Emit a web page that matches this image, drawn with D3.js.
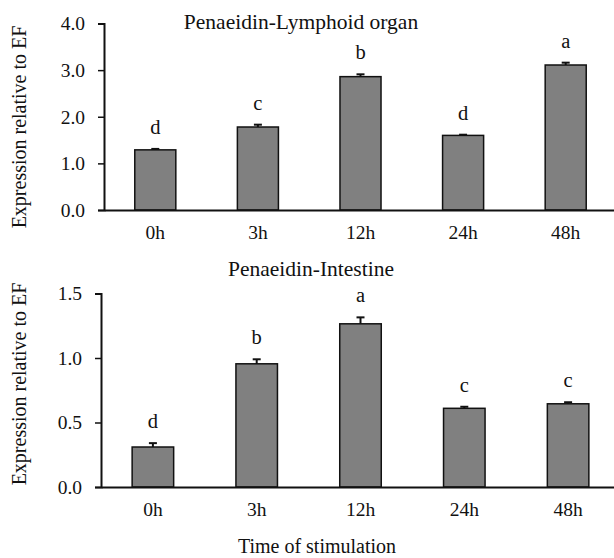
<!DOCTYPE html>
<html>
<head>
<meta charset="utf-8">
<script src="https://cdn.jsdelivr.net/npm/d3@7"></script>
<style>
  body { margin: 0; background: #fff; }
  text { font-family: "Liberation Serif", "Times New Roman", serif; fill: #111; }
</style>
</head>
<body>
<svg id="chart"></svg>
<script>
const times = ["0h", "3h", "12h", "24h", "48h"];

// Penaeidin - lymphoid organ
const lymphMean = [1.29, 1.78, 2.86, 1.60, 3.11];
const lymphErr = [0.02, 0.05, 0.05, 0.015, 0.05];
const lymphLetters = ["d", "c", "b", "d", "a"];
const lymphTicks = [0, 1, 2, 3, 4];

// Penaeidin - intestine
const intMean = [0.31, 0.955, 1.265, 0.61, 0.645];
const intErr = [0.03, 0.035, 0.05, 0.012, 0.012];
const intLetters = ["d", "b", "a", "c", "c"];
const intTicks = [0, 0.5, 1.0, 1.5];

const width = 614, height = 558;

var svg = d3.select("#chart")
            .attr("width", width)
            .attr("height", height);

function drawPanel(opts){
  var xScale = d3.scaleBand()
                 .domain(times)
                 .range([opts.left, opts.right])
                 .paddingInner(0.6)
                 .paddingOuter(0.3);
  var yScale = d3.scaleLinear()
                 .domain([0, opts.max])
                 .range([opts.bottom, opts.top]);

  var g = svg.append("g");

  var data = times.map((t, i) => ({t: t, v: opts.mean[i], e: opts.err[i], l: opts.letters[i]}));

  // bars
  g.selectAll("rect.bar")
   .data(data)
   .enter()
   .append("rect")
   .attr("class", "bar")
   .attr("x", d => xScale(d.t))
   .attr("y", d => yScale(d.v))
   .attr("width", xScale.bandwidth())
   .attr("height", d => yScale(0) - yScale(d.v))
   .attr("fill", "#808080")
   .attr("stroke", "#111")
   .attr("stroke-width", 1.5);

  // error bars (upper only)
  var cx = d => xScale(d.t) + xScale.bandwidth() / 2;
  g.selectAll("line.err")
   .data(data)
   .enter()
   .append("line")
   .attr("x1", cx).attr("x2", cx)
   .attr("y1", d => yScale(d.v))
   .attr("y2", d => yScale(d.v + d.e))
   .attr("stroke", "#111")
   .attr("stroke-width", 2);
  g.selectAll("line.cap")
   .data(data)
   .enter()
   .append("line")
   .attr("x1", d => cx(d) - 4).attr("x2", d => cx(d) + 4)
   .attr("y1", d => yScale(d.v + d.e))
   .attr("y2", d => yScale(d.v + d.e))
   .attr("stroke", "#111")
   .attr("stroke-width", 2);

  // significance letters
  g.selectAll("text.letter")
   .data(data)
   .enter()
   .append("text")
   .attr("x", cx)
   .attr("y", d => yScale(d.v + d.e) - 15)
   .attr("text-anchor", "middle")
   .style("font-size", "20.5px")
   .text(d => d.l);

  // axes
  var yAxis = d3.axisLeft(yScale)
                .tickValues(opts.ticks)
                .tickFormat(d3.format(".1f"))
                .tickSizeOuter(0)
                .tickSize(6)
                .tickPadding(13);
  var ya = g.append("g")
            .attr("transform", "translate(" + opts.left + ",0)")
            .call(yAxis);
  ya.selectAll("text").style("font-size", "19.5px").attr("fill", "#111");

  var xAxis = d3.axisBottom(xScale).tickSize(0).tickPadding(15);
  var xa = g.append("g")
            .attr("transform", "translate(0," + opts.bottom + ")")
            .call(xAxis);
  xa.selectAll("text").style("font-size", "19.5px").attr("fill", "#111");

  [ya, xa].forEach(a => {
    a.select(".domain").attr("stroke", "#111").attr("stroke-width", 2);
    a.selectAll(".tick line").attr("stroke", "#111").attr("stroke-width", 1.5);
  });

  // title
  g.append("text")
   .attr("x", opts.titleX)
   .attr("y", opts.titleY)
   .attr("text-anchor", "middle")
   .style("font-size", "21.5px")
   .text(opts.title);

  // y label
  g.append("text")
   .attr("transform", "translate(" + opts.ylabelX + "," + opts.ylabelY + ") rotate(-90)")
   .attr("text-anchor", "middle")
   .style("font-size", "20px")
   .text("Expression relative to EF");
}

drawPanel({
  mean: lymphMean, err: lymphErr, letters: lymphLetters, ticks: lymphTicks, max: 4,
  left: 104, right: 617, top: 23.5, bottom: 210,
  title: "Penaeidin-Lymphoid organ", titleX: 301, titleY: 29,
  ylabelX: 26, ylabelY: 127
});

drawPanel({
  mean: intMean, err: intErr, letters: intLetters, ticks: intTicks, max: 1.5,
  left: 101, right: 620, top: 293.5, bottom: 487,
  title: "Penaeidin-Intestine", titleX: 311, titleY: 276,
  ylabelX: 26, ylabelY: 384
});

svg.append("text")
   .attr("x", 317)
   .attr("y", 553)
   .attr("text-anchor", "middle")
   .style("font-size", "20px")
   .text("Time of stimulation");
</script>
</body>
</html>
